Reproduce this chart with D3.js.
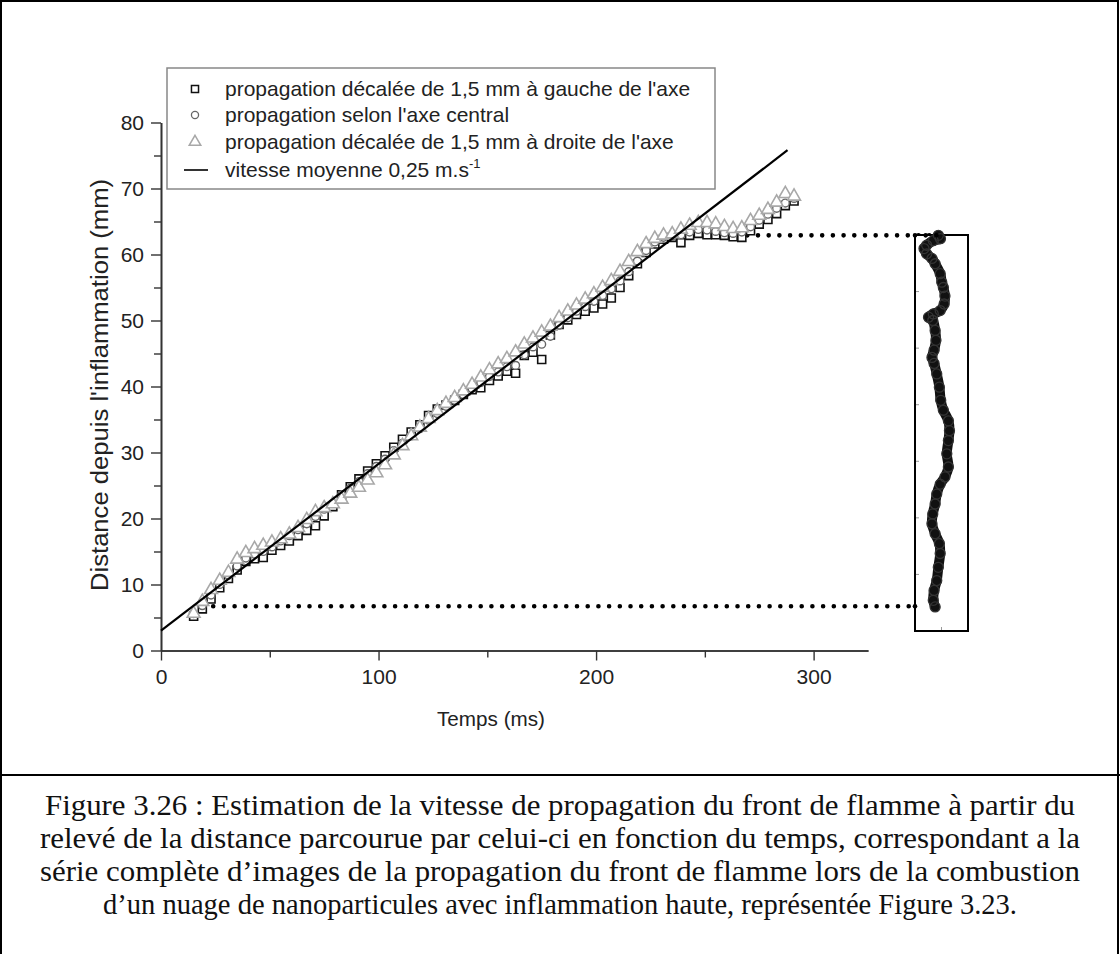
<!DOCTYPE html>
<html><head><meta charset="utf-8">
<script src="https://cdn.jsdelivr.net/npm/d3@7"></script>
<style>body{margin:0;background:#fff}svg{display:block}</style>
</head><body>
<svg id="c" width="1120" height="954"></svg>
<script>
// ---------------- DATA ----------------
const times = [15,19,23,27,31,35,39,43,47,51,55,59,63,67,71,75,79,83,87,91,95,99,103,107,111,115,119,123,127,131,135,139,143,147,151,155,159,163,167,171,175,179,183,187,191,195,199,203,207,211,215,219,223,227,231,235,239,243,247,251,255,259,263,267,271,275,279,283,287,291];
const leftSeries = [5.2,6.3,7.8,9.5,10.9,12.2,13.5,13.9,14.1,15.2,
  15.9,16.6,17.4,18.2,18.9,20.4,21.8,23.6,24.8,26.0,
  27.2,28.3,29.5,30.8,32.0,33.1,34.2,35.6,36.6,37.2,
  37.9,38.8,39.5,39.8,40.9,41.6,42.3,42.0,44.7,45.2,
  44.1,47.8,49.4,50.1,50.9,51.4,51.9,52.5,53.4,55.0,
  56.8,58.6,60.3,61.6,62.3,62.6,61.8,62.9,63.2,63.0,
  63.0,62.9,62.7,62.6,63.6,64.6,65.3,66.2,67.4,68.1];
const centralSeries = [5.6,6.8,8.4,10.0,11.4,12.8,14.0,14.6,15.0,15.7,
  16.6,17.4,18.3,19.2,20.3,21.4,22.3,23.6,24.6,25.6,
  26.8,27.9,29.0,30.3,31.4,32.5,33.6,34.9,35.9,37.0,
  37.9,38.8,39.7,40.6,41.5,42.2,43.0,43.2,44.8,46.0,
  46.4,47.6,49.3,50.4,51.4,52.1,52.9,53.8,54.8,56.0,
  57.4,59.0,60.6,61.9,62.6,62.8,63.0,63.4,63.8,63.7,
  63.5,63.3,63.2,63.4,64.2,65.2,66.1,67.0,67.8,68.5];
const rightSeries = [5.6,7.4,9.2,10.6,11.8,13.8,14.8,15.4,15.9,16.4,
  16.9,17.6,18.6,19.8,21.0,21.6,22.2,22.9,23.8,24.7,
  25.8,26.9,28.1,29.6,31.0,32.5,33.8,35.1,36.3,37.4,
  38.3,39.3,40.3,41.4,42.5,43.4,44.2,45.2,46.4,47.3,
  48.2,49.1,50.4,51.4,52.3,53.2,54.0,55.0,56.0,57.4,
  58.9,60.4,61.6,62.4,62.9,63.1,63.8,64.4,64.8,64.8,
  64.6,64.2,63.9,64.0,65.1,65.9,66.8,67.9,69.2,68.8];
const fitTimes = [0, 288];
const fitValues = [3.0, 75.8];
const xMajorTicks = [0,100,200,300];
const xMinorTicks = [50,150,250];
const yMajorTicks = [0,10,20,30,40,50,60,70,80];
const yMinorTicks = [5,15,25,35,45,55,65,75];
const legendLabels = [
  "propagation décalée de 1,5 mm à gauche de l'axe",
  "propagation selon l'axe central",
  "propagation décalée de 1,5 mm à droite de l'axe",
  "vitesse moyenne 0,25 m.s"
];
const guideLevels = [62.9, 6.7];      // mm, dotted guides
const guideStartTimes = [240, 24];    // ms
const guideEndLateral = [-0.1, -0.6];
const frontDistance = [62.9,62.4,62.1,61.4,60.9,60.1,59.4,58.6,57.1,55.8,55.0,53.7,52.5,51.5,51.0,50.5,50.0,48.5,47.0,45.5,44.4,43.5,41.9,39.9,37.9,36.4,34.8,33.3,31.8,29.8,27.8,26.3,25.2,23.7,22.2,20.7,19.2,17.7,16.2,14.7,12.6,10.6,9.1,7.6,6.6];
const frontLateral = [-0.12,-0.04,-0.31,-0.56,-0.66,-0.56,-0.36,-0.24,-0.05,0.01,0.07,0.13,0.10,-0.05,-0.31,-0.49,-0.33,-0.24,-0.21,-0.28,-0.36,-0.28,-0.18,-0.08,-0.03,0.07,0.26,0.30,0.26,0.20,0.26,0.13,-0.05,-0.18,-0.24,-0.33,-0.36,-0.24,-0.08,-0.05,-0.12,-0.18,-0.28,-0.31,-0.24];
const insetTicks = [1,2,3,4,5,6];
const captionLines = [
  "Figure 3.26 : Estimation de la vitesse de propagation du front de flamme à partir du",
  "relevé de la distance parcourue par celui-ci en fonction du temps, correspondant a la",
  "série complète d’images de la propagation du front de flamme lors de la combustion",
  "d’un nuage de nanoparticules avec inflammation haute, représentée Figure 3.23."
];

// ---------------- DRAW ----------------
const svg = d3.select("#c");
const SANS = "'Liberation Sans', Arial, sans-serif";
const SERIF = "'Liberation Serif', 'Times New Roman', serif";

svg.append("rect").attr("x",0).attr("y",0).attr("width",1120).attr("height",954).attr("fill","#fff");
const frame = svg.append("g").attr("stroke","#000").attr("stroke-width",2);
frame.append("line").attr("x1",1).attr("y1",1).attr("x2",1119).attr("y2",1);
frame.append("line").attr("x1",1).attr("y1",0).attr("x2",1).attr("y2",954);
frame.append("line").attr("x1",1118).attr("y1",0).attr("x2",1118).attr("y2",954);
frame.append("line").attr("x1",0).attr("y1",775).attr("x2",1120).attr("y2",775);

const x = d3.scaleLinear().domain([0,325]).range([161,868]);
const y = d3.scaleLinear().domain([0,80]).range([650.5,122.5]);

function styleAxis(g){
  g.select(".domain").attr("stroke","#333").attr("stroke-width",1.6);
  g.selectAll(".tick line").attr("stroke","#333").attr("stroke-width",1.4);
  g.selectAll(".tick text").attr("fill","#222").style("font-family",SANS).style("font-size","21px");
}
svg.append("g").attr("transform","translate(0,650.5)")
  .call(d3.axisBottom(x).tickValues(xMinorTicks).tickSize(7).tickSizeOuter(0).tickFormat(""))
  .call(styleAxis);
svg.append("g").attr("transform","translate(0,650.5)")
  .call(d3.axisBottom(x).tickValues(xMajorTicks).tickSize(10).tickSizeOuter(0).tickPadding(9))
  .call(styleAxis);
svg.append("g").attr("transform","translate(161,0)")
  .call(d3.axisLeft(y).tickValues(yMinorTicks).tickSize(7).tickSizeOuter(0).tickFormat(""))
  .call(styleAxis);
svg.append("g").attr("transform","translate(161,0)")
  .call(d3.axisLeft(y).tickValues(yMajorTicks).tickSize(10).tickSizeOuter(0).tickPadding(7))
  .call(styleAxis);

svg.append("text").attr("x",491).attr("y",726).attr("text-anchor","middle")
  .style("font-family",SANS).style("font-size","21px").attr("fill","#222")
  .attr("textLength",108).attr("lengthAdjust","spacingAndGlyphs").text("Temps (ms)");
svg.append("text").attr("transform","translate(108,385) rotate(-90)").attr("text-anchor","middle")
  .style("font-family",SANS).style("font-size","23px").attr("fill","#222")
  .attr("textLength",412).attr("lengthAdjust","spacingAndGlyphs")
  .text("Distance depuis l'inflammation (mm)");

const insetX = d3.scaleLinear().domain([-1,1]).range([915,968]);
const insetY = d3.scaleLinear().domain([0,7]).range([631,235]);
const guides = svg.append("g");
guideLevels.forEach((lv,i)=>{
  guides.append("line")
    .attr("x1",x(guideStartTimes[i])).attr("x2",insetX(guideEndLateral[i]))
    .attr("y1",y(lv)).attr("y2",y(lv))
    .attr("stroke","#000").attr("stroke-width",4.6).attr("stroke-linecap","round")
    .attr("stroke-dasharray","0 10.7");
});

const sym = d3.symbol();
function drawSeries(vals, type, size, stroke, sw){
  const g = svg.append("g");
  g.selectAll("path").data(vals).join("path")
    .attr("transform",(d,i)=>`translate(${x(times[i])},${y(d)})`)
    .attr("d", sym.type(type).size(size)())
    .attr("fill","#fff").attr("stroke",stroke).attr("stroke-width",sw);
}
drawSeries(leftSeries, d3.symbolSquare, 64, "#111", 1.6);
drawSeries(centralSeries, d3.symbolCircle, 48, "#666", 1.4);
drawSeries(rightSeries, d3.symbolTriangle, 72, "#a8a8a8", 1.6);

svg.append("line")
  .attr("x1",x(fitTimes[0])).attr("y1",y(fitValues[0]))
  .attr("x2",x(fitTimes[1])).attr("y2",y(fitValues[1]))
  .attr("stroke","#000").attr("stroke-width",2.2);

const lg = svg.append("g");
lg.append("rect").attr("x",167).attr("y",68).attr("width",548).attr("height",121)
  .attr("fill","#fff").attr("stroke","#888").attr("stroke-width",1.5);
const rowsY = [89,115,142,170];
const legendSyms = [[d3.symbolSquare,50,"#111",1.5],[d3.symbolCircle,40,"#666",1.3],[d3.symbolTriangle,58,"#a8a8a8",1.5]];
legendSyms.forEach((s,i)=>{
  lg.append("path").attr("transform",`translate(195,${rowsY[i]})`)
    .attr("d", d3.symbol().type(s[0]).size(s[1])())
    .attr("fill","#fff").attr("stroke",s[2]).attr("stroke-width",s[3]);
});
lg.append("line").attr("x1",184).attr("x2",208).attr("y1",rowsY[3]).attr("y2",rowsY[3])
  .attr("stroke","#000").attr("stroke-width",1.6);
legendLabels.forEach((t,i)=>{
  const tx = lg.append("text").attr("x",225).attr("y",rowsY[i]+7)
    .style("font-family",SANS).style("font-size","21px").attr("fill","#222").text(t);
  if(i===3){
    tx.append("tspan").attr("dy",-9).style("font-size","13px").text("-1");
  }
});

const inset = svg.append("g");
inset.append("rect").attr("x",insetX(-1)).attr("y",insetY(7))
  .attr("width",insetX(1)-insetX(-1)).attr("height",insetY(0)-insetY(7))
  .attr("fill","#fff").attr("stroke","#000").attr("stroke-width",2);
inset.selectAll("line.lt").data(insetTicks).join("line")
  .attr("x1",insetX(-1)+1).attr("x2",insetX(-1)+4).attr("y1",d=>insetY(d)).attr("y2",d=>insetY(d))
  .attr("stroke","#999").attr("stroke-width",1);
inset.append("line").attr("x1",insetX(0)).attr("x2",insetX(0)).attr("y1",insetY(0)-1).attr("y2",insetY(0)-4)
  .attr("stroke","#999").attr("stroke-width",1);
const trace = frontDistance.map((d,i)=>[insetX(frontLateral[i]), y(d)]);
inset.append("path").attr("d", d3.line().curve(d3.curveCatmullRom)(trace))
  .attr("fill","none").attr("stroke","#111").attr("stroke-width",10).attr("stroke-linecap","round");
inset.selectAll("circle").data(trace).join("circle")
  .attr("cx",d=>d[0]).attr("cy",d=>d[1]).attr("r",5)
  .attr("fill","none").attr("stroke","#333").attr("stroke-width",1.3);

guideLevels.forEach((lv,i)=>{
  inset.append("line")
    .attr("x1",insetX(-1)).attr("x2",insetX(guideEndLateral[i]))
    .attr("y1",y(lv)).attr("y2",y(lv))
    .attr("stroke","#000").attr("stroke-width",4.6).attr("stroke-linecap","round")
    .attr("stroke-dasharray","0 10.7");
});

const capY = [815,848,881,914];
const capW = [1030,1040,1040,914];
captionLines.forEach((t,i)=>{
  svg.append("text").attr("x",560).attr("y",capY[i]).attr("text-anchor","middle")
    .style("font-family",SERIF).style("font-size","30px").attr("fill","#111")
    .attr("textLength",capW[i]).attr("lengthAdjust","spacingAndGlyphs").text(t);
});
</script>
</body></html>
